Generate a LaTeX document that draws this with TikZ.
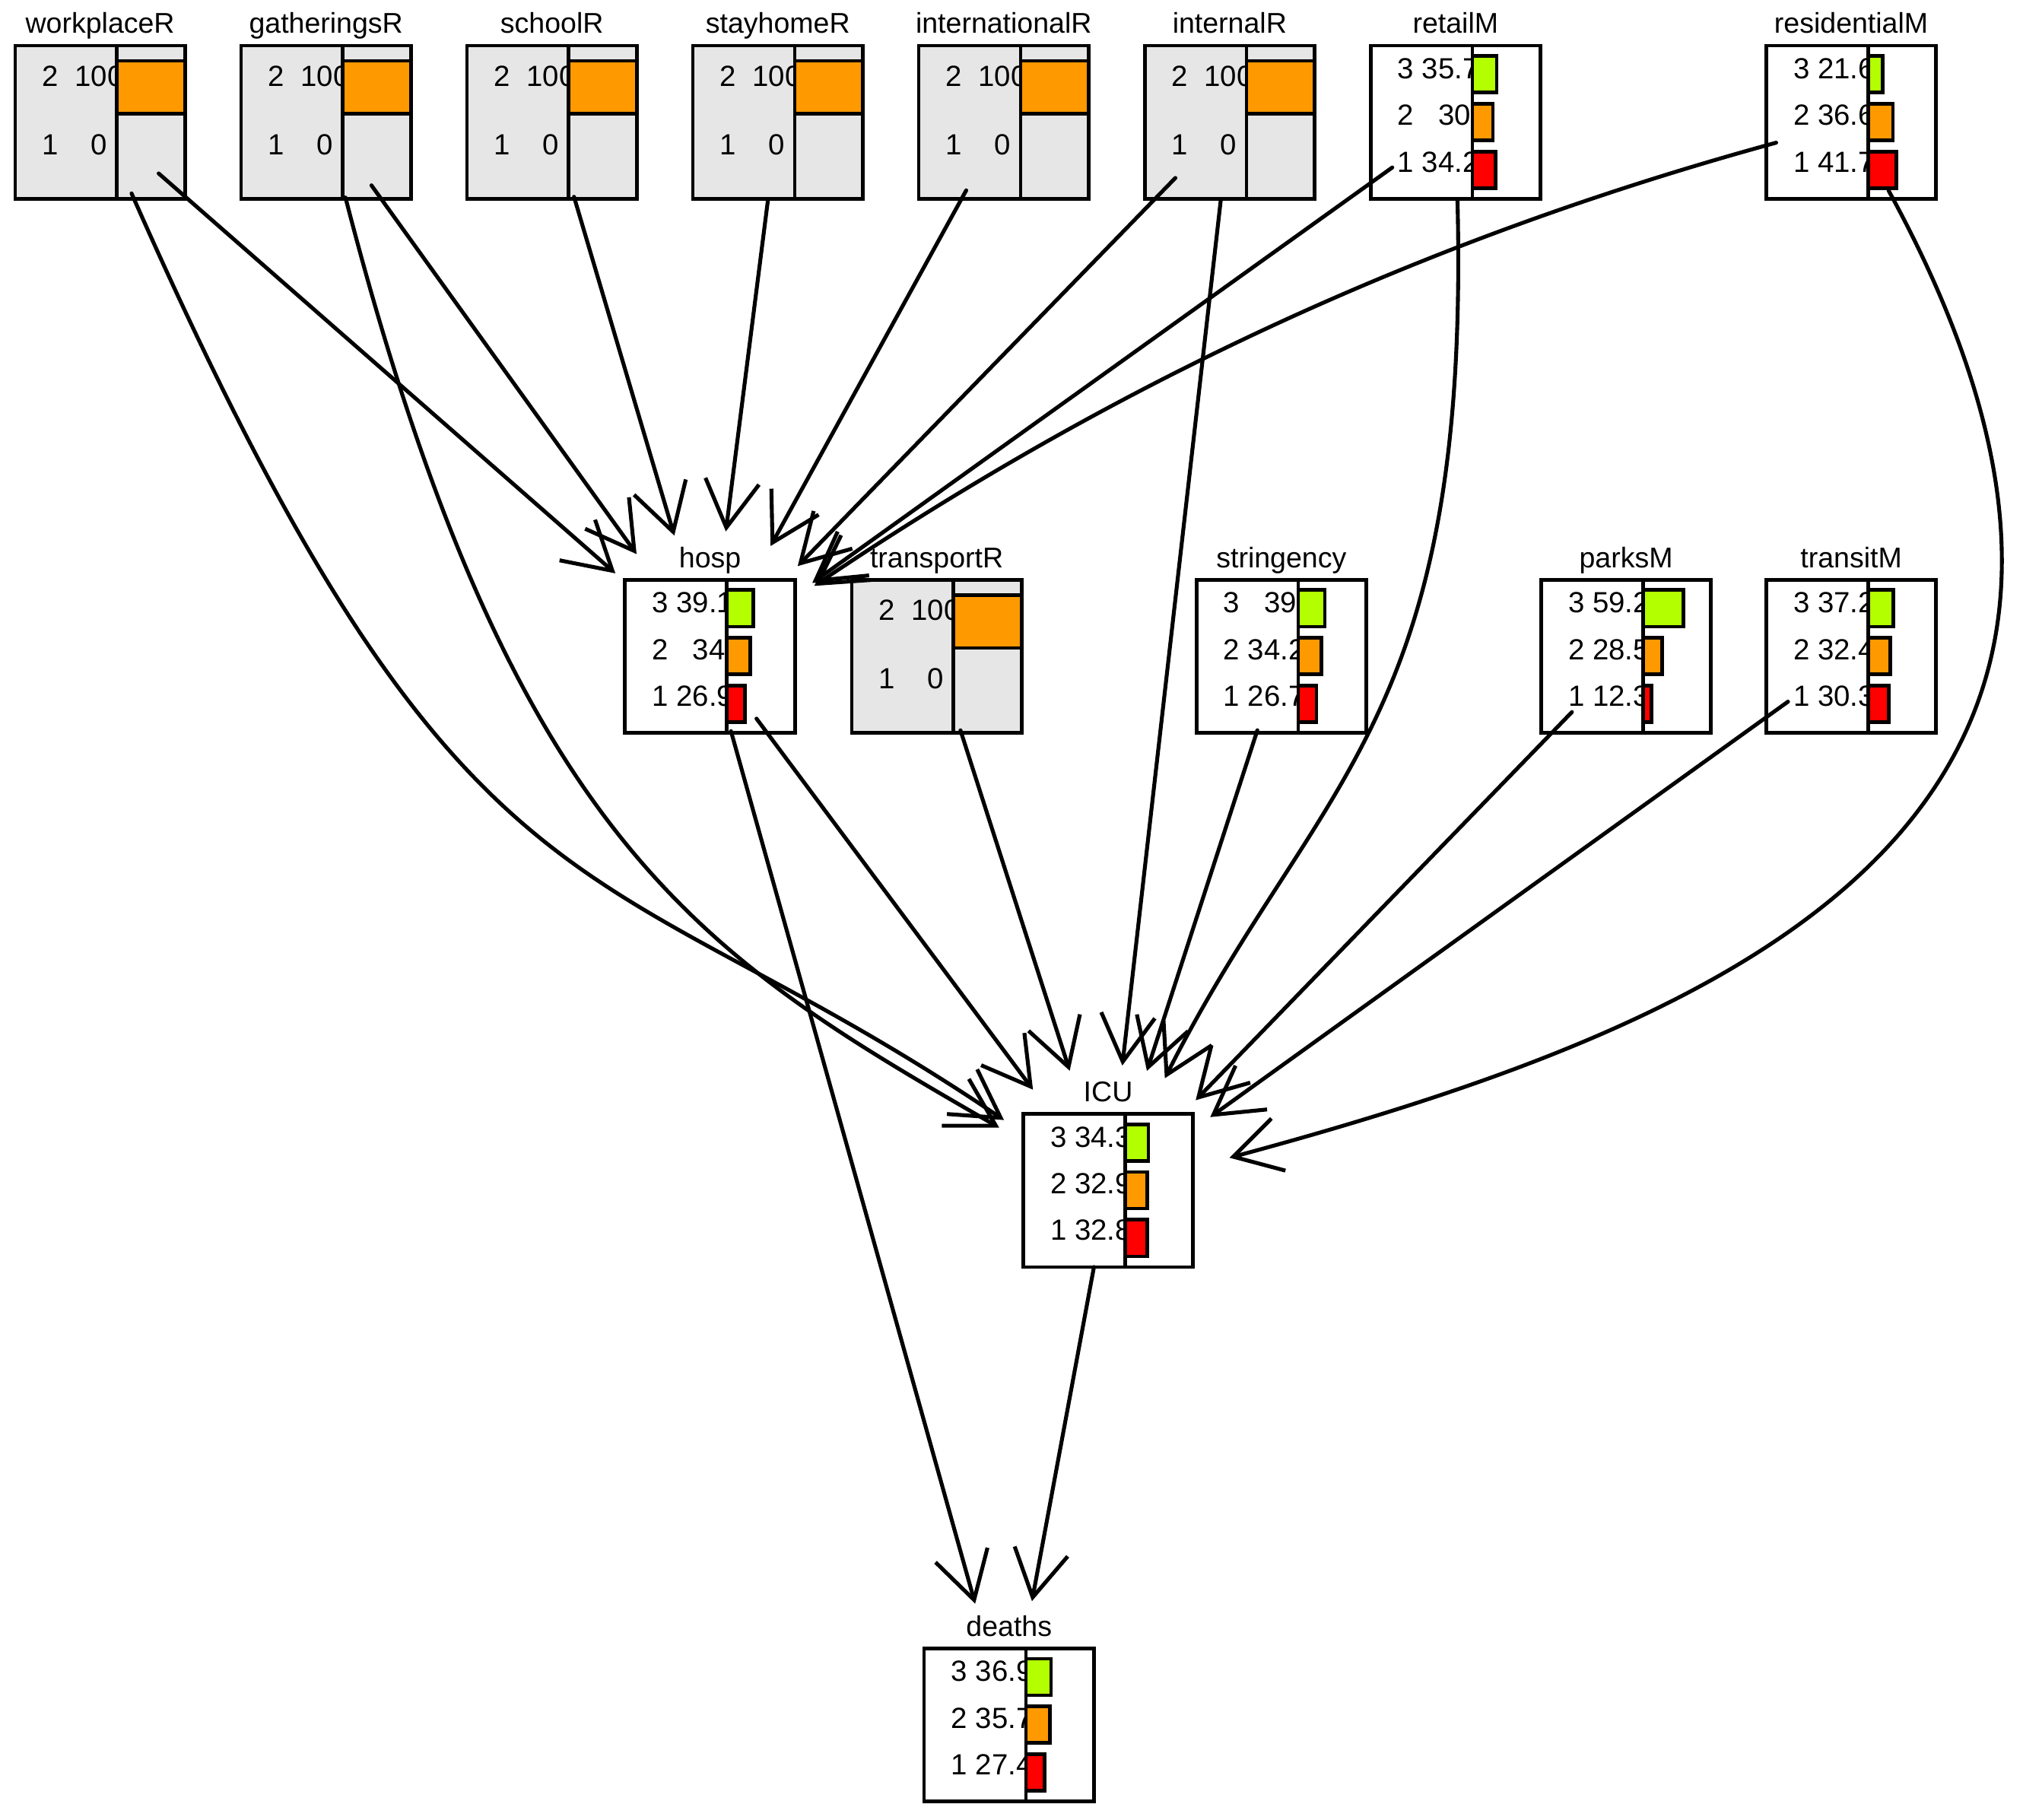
\documentclass[tikz,border=0pt]{standalone}
\usepackage{fontspec}
\setmainfont{Liberation Sans}
\usepackage{tikz}
\usetikzlibrary{arrows.meta}
\definecolor{barGreen}{RGB}{179,255,0}
\definecolor{barOrange}{RGB}{255,153,0}
\definecolor{barRed}{RGB}{255,0,0}
\definecolor{boxGray}{RGB}{230,230,230}

\begin{document}
\begin{tikzpicture}[x=1pt, y=-1pt,
	varpt/.style={circle, minimum size=120pt, inner sep=0pt, outer sep=0pt},
	lpart/.style={draw, line width=2.8pt, minimum width=78.5pt, minimum height=118pt, inner sep=0pt, outer sep=0pt, anchor=north west},
	rpart/.style={lpart, minimum width=52.5pt},
	ttl/.style={font=\fontsize{22}{24}\selectfont, anchor=base, inner sep=0pt},
	num/.style={font=\fontsize{22.5}{25}\selectfont, anchor=base west, inner sep=0pt},
	bar/.style={draw, line width=2.8pt, minimum height=28.2pt, inner sep=0pt, outer sep=0pt, anchor=west},
	fullbar/.style={draw, line width=2.8pt, fill=barOrange, minimum width=52.5pt, minimum height=41pt, inner sep=0pt, outer sep=0pt, anchor=north west},
	edge/.style={line width=3pt, line cap=round, line join=round, -{Straight Barb[length=36pt, width=41.6pt]}, shorten >=37pt}]

	\useasboundingbox (0,0) rectangle (1560,1403);

	\node[varpt] (workplaceR) at (77.2,94.2) {};
	\node[varpt] (gatheringsR) at (251.4,94.2) {};
	\node[varpt] (schoolR) at (425.6,94.2) {};
	\node[varpt] (stayhomeR) at (599.8,94.2) {};
	\node[varpt] (internationalR) at (774,94.2) {};
	\node[varpt] (internalR) at (948.2,94.2) {};
	\node[varpt] (retailM) at (1122.4,94.2) {};
	\node[varpt] (residentialM) at (1427.5,94.2) {};
	\node[varpt] (hosp) at (547.5,506) {};
	\node[varpt] (transportR) at (722.3,506) {};
	\node[varpt] (stringency) at (988.1,506) {};
	\node[varpt] (parksM) at (1253.9,506) {};
	\node[varpt] (transitM) at (1427.5,506) {};
	\node[varpt] (ICU) at (854.5,918) {};
	\node[varpt] (deaths) at (778.1,1330) {};

	\node[lpart, fill=boxGray] (workplaceRl) at (11.7,35.2) {};
	\node[rpart, fill=boxGray] (workplaceRr) at (workplaceRl.north east) {};
	\node[ttl] (workplaceRt) at (77.2,25.7) {workplaceR};
	\node[num] (workplaceR2) at (32.5,66.5) {2 \ 100};
	\node[num] (workplaceR1) at (32.5,119.2) {1 \ \hphantom{0}0};
	\node[fullbar] (workplaceRb) at (90.2,46.9) {};

	\node[lpart, fill=boxGray] (gatheringsRl) at (185.9,35.2) {};
	\node[rpart, fill=boxGray] (gatheringsRr) at (gatheringsRl.north east) {};
	\node[ttl] (gatheringsRt) at (251.4,25.7) {gatheringsR};
	\node[num] (gatheringsR2) at (206.7,66.5) {2 \ 100};
	\node[num] (gatheringsR1) at (206.7,119.2) {1 \ \hphantom{0}0};
	\node[fullbar] (gatheringsRb) at (264.4,46.9) {};

	\node[lpart, fill=boxGray] (schoolRl) at (360.1,35.2) {};
	\node[rpart, fill=boxGray] (schoolRr) at (schoolRl.north east) {};
	\node[ttl] (schoolRt) at (425.6,25.7) {schoolR};
	\node[num] (schoolR2) at (380.9,66.5) {2 \ 100};
	\node[num] (schoolR1) at (380.9,119.2) {1 \ \hphantom{0}0};
	\node[fullbar] (schoolRb) at (438.6,46.9) {};

	\node[lpart, fill=boxGray] (stayhomeRl) at (534.3,35.2) {};
	\node[rpart, fill=boxGray] (stayhomeRr) at (stayhomeRl.north east) {};
	\node[ttl] (stayhomeRt) at (599.8,25.7) {stayhomeR};
	\node[num] (stayhomeR2) at (555.1,66.5) {2 \ 100};
	\node[num] (stayhomeR1) at (555.1,119.2) {1 \ \hphantom{0}0};
	\node[fullbar] (stayhomeRb) at (612.8,46.9) {};

	\node[lpart, fill=boxGray] (internationalRl) at (708.5,35.2) {};
	\node[rpart, fill=boxGray] (internationalRr) at (internationalRl.north east) {};
	\node[ttl] (internationalRt) at (774,25.7) {internationalR};
	\node[num] (internationalR2) at (729.3,66.5) {2 \ 100};
	\node[num] (internationalR1) at (729.3,119.2) {1 \ \hphantom{0}0};
	\node[fullbar] (internationalRb) at (787,46.9) {};

	\node[lpart, fill=boxGray] (internalRl) at (882.7,35.2) {};
	\node[rpart, fill=boxGray] (internalRr) at (internalRl.north east) {};
	\node[ttl] (internalRt) at (948.2,25.7) {internalR};
	\node[num] (internalR2) at (903.5,66.5) {2 \ 100};
	\node[num] (internalR1) at (903.5,119.2) {1 \ \hphantom{0}0};
	\node[fullbar] (internalRb) at (961.2,46.9) {};

	\node[lpart, fill=white] (retailMl) at (1056.9,35.2) {};
	\node[rpart, fill=white] (retailMr) at (retailMl.north east) {};
	\node[ttl] (retailMt) at (1122.4,25.7) {retailM};
	\node[num] (retailM3) at (1077.7,60.7) {3 35.7};
	\node[num] (retailM2) at (1077.7,96.7) {2 \hphantom{0}30};
	\node[num] (retailM1) at (1077.7,132.7) {1 34.2};
	\node[bar, fill=barGreen, minimum width=18.7pt] (retailMg) at (1135.4,57.3) {};
	\node[bar, fill=barOrange, minimum width=15.8pt] (retailMo) at (1135.4,94) {};
	\node[bar, fill=barRed, minimum width=18pt] (retailMrd) at (1135.4,130.9) {};

	\node[lpart, fill=white] (residentialMl) at (1362,35.2) {};
	\node[rpart, fill=white] (residentialMr) at (residentialMl.north east) {};
	\node[ttl] (residentialMt) at (1427.5,25.7) {residentialM};
	\node[num] (residentialM3) at (1382.8,60.7) {3 21.6};
	\node[num] (residentialM2) at (1382.8,96.7) {2 36.6};
	\node[num] (residentialM1) at (1382.8,132.7) {1 41.7};
	\node[bar, fill=barGreen, minimum width=11.3pt] (residentialMg) at (1440.5,57.3) {};
	\node[bar, fill=barOrange, minimum width=19.2pt] (residentialMo) at (1440.5,94) {};
	\node[bar, fill=barRed, minimum width=21.9pt] (residentialMrd) at (1440.5,130.9) {};

	\node[lpart, fill=white] (hospl) at (482,447) {};
	\node[rpart, fill=white] (hospr) at (hospl.north east) {};
	\node[ttl] (hospt) at (547.5,437.5) {hosp};
	\node[num] (hosp3) at (502.8,472.5) {3 39.1};
	\node[num] (hosp2) at (502.8,508.5) {2 \hphantom{0}34};
	\node[num] (hosp1) at (502.8,544.5) {1 26.9};
	\node[bar, fill=barGreen, minimum width=20.5pt] (hospg) at (560.5,469.1) {};
	\node[bar, fill=barOrange, minimum width=17.9pt] (hospo) at (560.5,505.8) {};
	\node[bar, fill=barRed, minimum width=14.1pt] (hosprd) at (560.5,542.7) {};

	\node[lpart, fill=boxGray] (transportRl) at (656.8,447) {};
	\node[rpart, fill=boxGray] (transportRr) at (transportRl.north east) {};
	\node[ttl] (transportRt) at (722.3,437.5) {transportR};
	\node[num] (transportR2) at (677.6,478.3) {2 \ 100};
	\node[num] (transportR1) at (677.6,531) {1 \ \hphantom{0}0};
	\node[fullbar] (transportRb) at (735.3,458.7) {};

	\node[lpart, fill=white] (stringencyl) at (922.6,447) {};
	\node[rpart, fill=white] (stringencyr) at (stringencyl.north east) {};
	\node[ttl] (stringencyt) at (988.1,437.5) {stringency};
	\node[num] (stringency3) at (943.4,472.5) {3 \hphantom{0}39};
	\node[num] (stringency2) at (943.4,508.5) {2 34.2};
	\node[num] (stringency1) at (943.4,544.5) {1 26.7};
	\node[bar, fill=barGreen, minimum width=20.5pt] (stringencyg) at (1001.1,469.1) {};
	\node[bar, fill=barOrange, minimum width=18pt] (stringencyo) at (1001.1,505.8) {};
	\node[bar, fill=barRed, minimum width=14pt] (stringencyrd) at (1001.1,542.7) {};

	\node[lpart, fill=white] (parksMl) at (1188.4,447) {};
	\node[rpart, fill=white] (parksMr) at (parksMl.north east) {};
	\node[ttl] (parksMt) at (1253.9,437.5) {parksM};
	\node[num] (parksM3) at (1209.2,472.5) {3 59.2};
	\node[num] (parksM2) at (1209.2,508.5) {2 28.5};
	\node[num] (parksM1) at (1209.2,544.5) {1 12.3};
	\node[bar, fill=barGreen, minimum width=31.1pt] (parksMg) at (1266.9,469.1) {};
	\node[bar, fill=barOrange, minimum width=15pt] (parksMo) at (1266.9,505.8) {};
	\node[bar, fill=barRed, minimum width=6.5pt] (parksMrd) at (1266.9,542.7) {};

	\node[lpart, fill=white] (transitMl) at (1362,447) {};
	\node[rpart, fill=white] (transitMr) at (transitMl.north east) {};
	\node[ttl] (transitMt) at (1427.5,437.5) {transitM};
	\node[num] (transitM3) at (1382.8,472.5) {3 37.2};
	\node[num] (transitM2) at (1382.8,508.5) {2 32.4};
	\node[num] (transitM1) at (1382.8,544.5) {1 30.3};
	\node[bar, fill=barGreen, minimum width=19.5pt] (transitMg) at (1440.5,469.1) {};
	\node[bar, fill=barOrange, minimum width=17pt] (transitMo) at (1440.5,505.8) {};
	\node[bar, fill=barRed, minimum width=15.9pt] (transitMrd) at (1440.5,542.7) {};

	\node[lpart, fill=white] (ICUl) at (789,859) {};
	\node[rpart, fill=white] (ICUr) at (ICUl.north east) {};
	\node[ttl] (ICUt) at (854.5,849.5) {ICU};
	\node[num] (ICU3) at (809.8,884.5) {3 34.3};
	\node[num] (ICU2) at (809.8,920.5) {2 32.9};
	\node[num] (ICU1) at (809.8,956.5) {1 32.8};
	\node[bar, fill=barGreen, minimum width=18pt] (ICUg) at (867.5,881.1) {};
	\node[bar, fill=barOrange, minimum width=17.3pt] (ICUo) at (867.5,917.8) {};
	\node[bar, fill=barRed, minimum width=17.2pt] (ICUrd) at (867.5,954.7) {};

	\node[lpart, fill=white] (deathsl) at (712.6,1271) {};
	\node[rpart, fill=white] (deathsr) at (deathsl.north east) {};
	\node[ttl] (deathst) at (778.1,1261.5) {deaths};
	\node[num] (deaths3) at (733.4,1296.5) {3 36.9};
	\node[num] (deaths2) at (733.4,1332.5) {2 35.7};
	\node[num] (deaths1) at (733.4,1368.5) {1 27.4};
	\node[bar, fill=barGreen, minimum width=19.4pt] (deathsg) at (791.1,1293.1) {};
	\node[bar, fill=barOrange, minimum width=18.7pt] (deathso) at (791.1,1329.8) {};
	\node[bar, fill=barRed, minimum width=14.4pt] (deathsrd) at (791.1,1366.7) {};

	\draw[edge] (workplaceR) -- (hosp);
	\draw[edge] (gatheringsR) -- (hosp);
	\draw[edge] (schoolR) -- (hosp);
	\draw[edge] (stayhomeR) -- (hosp);
	\draw[edge] (internationalR) -- (hosp);
	\draw[edge] (internalR) -- (hosp);
	\draw[edge] (retailM) -- (hosp);
	\draw[edge] (residentialM) .. controls (1081.4,188.8) and (845.2,305.2) .. (hosp);

	\draw[edge] (workplaceR) .. controls (360,735) and (455.7,648.1) .. (ICU);
	\draw[edge] (gatheringsR) .. controls (395.5,652.5) and (544,738.7) .. (ICU);
	\draw[edge] (hosp) -- (ICU);
	\draw[edge] (transportR) -- (ICU);
	\draw[edge] (internalR) -- (ICU);
	\draw[edge] (stringency) -- (ICU);
	\draw[edge] (retailM) .. controls (1134,560) and (1015.7,599) .. (ICU);
	\draw[edge] (parksM) -- (ICU);
	\draw[edge] (transitM) -- (ICU);
	\draw[edge] (residentialM) .. controls (1718.3,626.2) and (1344.4,785.8) .. (ICU);

	\draw[edge] (hosp) -- (deaths);
	\draw[edge] (ICU) -- (deaths);

\end{tikzpicture}
\end{document}
